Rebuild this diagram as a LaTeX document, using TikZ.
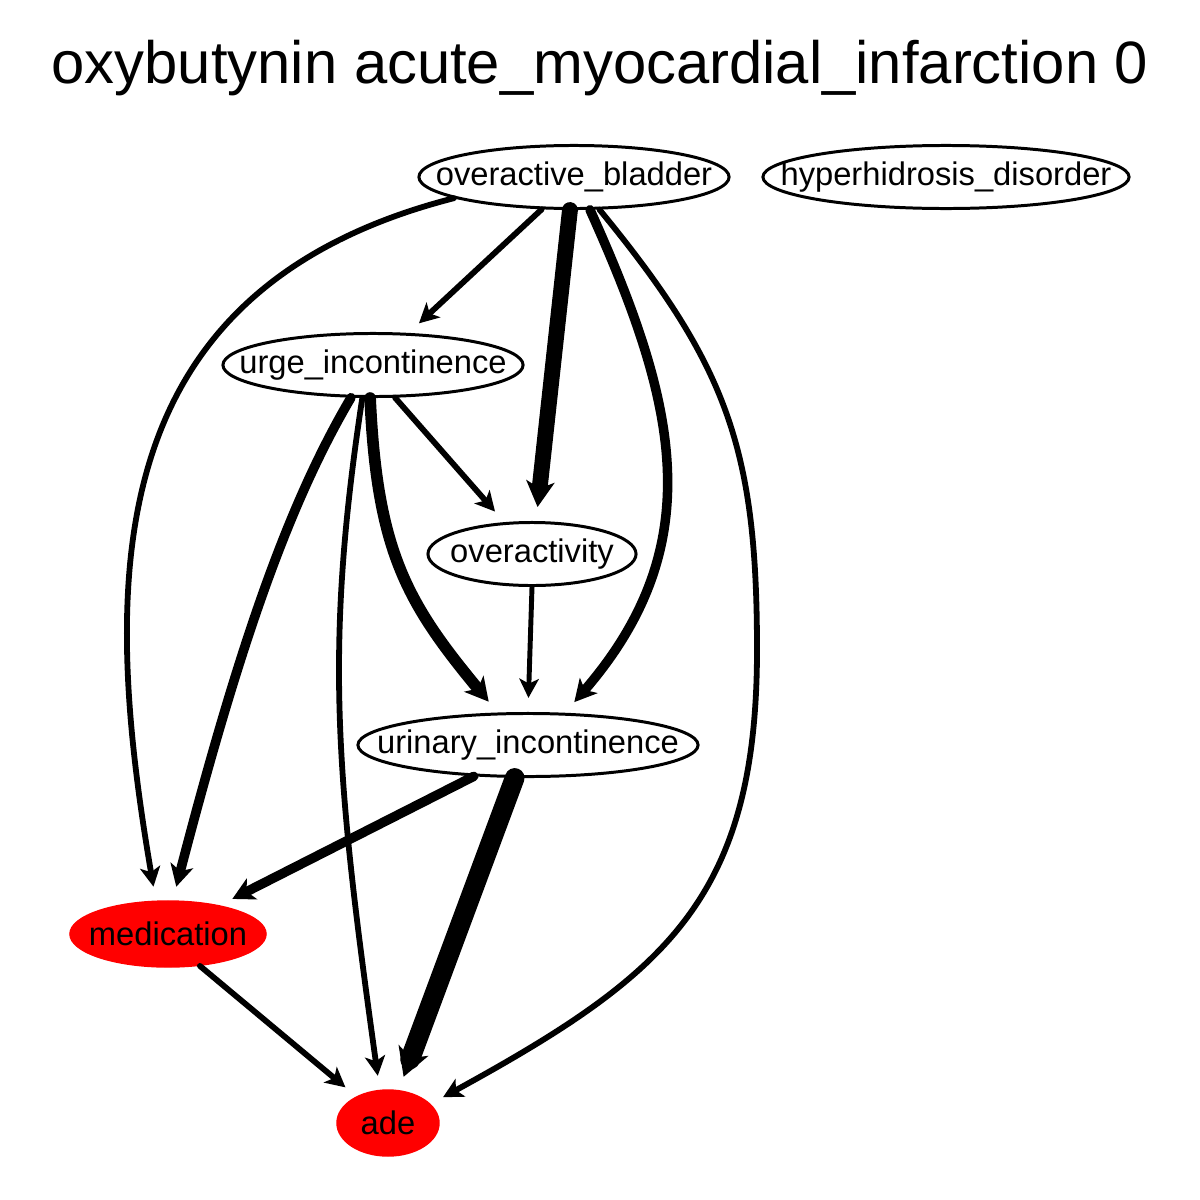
\documentclass[tikz,border=0pt]{standalone}
\usepackage{fontspec}
\setmainfont{Liberation Sans}
\usetikzlibrary{shapes.geometric,arrows.meta}
\begin{document}
\begin{tikzpicture}[x=0.01cm,y=-0.01cm,
  nd/.style={ellipse,draw,line width=0.85pt,inner sep=0pt,font=\fontsize{9.3}{11}\selectfont},
  rednd/.style={ellipse,fill=red,draw=red,inner sep=0pt,font=\fontsize{9.3}{11}\selectfont},
  ed/.style={-{Stealth[length=4.6pt 0.6,width=4.4pt 0.8,inset=1.1pt 0.2]},shorten >=4pt,line cap=round,line join=round},
  thin/.style={line width=1.65pt},
  ]
\useasboundingbox (0,0) rectangle (1200,1200);
\node[anchor=base,font=\fontsize{17}{20}\selectfont] (title) at (600,83) {oxybutynin acute\_myocardial\_infarction 0};

\node[nd,minimum width=3.1cm,minimum height=0.63cm] (ob) at (574,177) {\makebox[0pt]{overactive\_bladder}};
\node[nd,minimum width=3.66cm,minimum height=0.63cm] (hd) at (946,177) {\makebox[0pt]{hyperhidrosis\_disorder}};
\node[nd,minimum width=3.0cm,minimum height=0.63cm] (urge) at (373,365) {\makebox[0pt]{urge\_incontinence}};
\node[nd,minimum width=2.08cm,minimum height=0.63cm] (ovy) at (532,554) {\makebox[0pt]{overactivity}};
\node[nd,minimum width=3.4cm,minimum height=0.63cm] (ui) at (528,745) {\makebox[0pt]{urinary\_incontinence}};
\node[rednd,minimum width=1.96cm,minimum height=0.66cm] (med) at (168,934) {\makebox[0pt]{medication}};
\node[rednd,minimum width=1.02cm,minimum height=0.66cm] (ade) at (388,1123) {\makebox[0pt]{ade}};

% curved edges
\draw[ed,thin] (ob.190) .. controls (95,290) and (102,585) .. (med.110);
\draw[ed,thin] (ob.308) .. controls (728,366) and (757,450) .. (757,650) .. controls (757,900) and (664,976) .. (ade.24.5);
\draw[ed,line width=2.7pt] (ob.296) .. controls (676,401) and (712,543) .. (ui.41.8);
\draw[ed,line width=2.7pt] (urge.236.7) .. controls (289,503) and (240,642) .. (med.82);
\draw[ed,line width=3.3pt] (urge.265) .. controls (377,550) and (406,602) .. (ui.133.6);
\draw[ed,thin] (urge.252.5) .. controls (324,650) and (336,776) .. (ade.104.6);

% straight edges
\draw[ed,thin] (ob.225.8) -- (urge.42.3);
\draw[ed,line width=4.5pt] (ob.263) -- (ovy.83.5);
\draw[ed,thin] (urge.304.4) -- (ovy.131.4);
\draw[ed,line width=1.4pt] (ovy.270) -- (ui.90);
\draw[ed,line width=2.7pt] (ui.210.5) -- (med.29.4);
\draw[ed,line width=5.6pt] (ui.248.5) -- (ade.72.7);
\draw[ed,thin] (med.315) -- (ade.140);
\end{tikzpicture}
\end{document}
